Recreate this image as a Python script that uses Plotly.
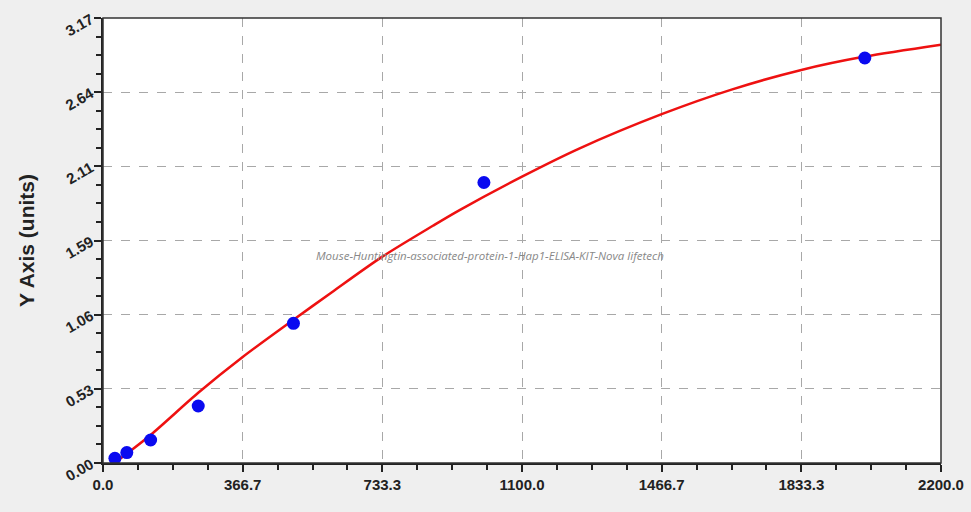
import numpy as np
import plotly.graph_objects as go

# puntos del estandar (concentracion vs densidad optica)
std_x = [31.25, 62.5, 125, 250, 500, 1000, 2000]
std_y = [0.033, 0.074, 0.164, 0.406, 0.995, 1.998, 2.885]

# curva ajustada
fit_x = [30, 125, 250, 366.7, 500, 600, 733.3, 866, 935, 1100, 1250, 1466.7, 1650, 1833.3, 2000, 2200]
fit_y = [0.00, 0.20, 0.50, 0.755, 1.02, 1.215, 1.47, 1.69, 1.80, 2.04, 2.24, 2.485, 2.66, 2.80, 2.895, 2.98]

x_ticks = [0.0, 366.7, 733.3, 1100.0, 1466.7, 1833.3, 2200.0]
x_labels = ["0.0", "366.7", "733.3", "1100.0", "1466.7", "1833.3", "2200.0"]
y_ticks = [0.0, 0.5283, 1.0567, 1.585, 2.1133, 2.6417, 3.17]
y_labels = ["0.00", "0.53", "1.06", "1.59", "2.11", "2.64", "3.17"]

watermark = "Mouse-Huntingtin-associated-protein-1-Hap1-ELISA-KIT-Nova lifetech"

fig = go.Figure()
fig.add_trace(go.Scatter(x=fit_x, y=fit_y, mode='lines', line=dict(color='#ee1111', width=2.5, shape='spline', smoothing=0.8),
                         showlegend=False, hoverinfo='skip'))
fig.add_trace(go.Scatter(x=std_x, y=std_y, mode='markers', marker=dict(color='#0a0af0', size=13),
                         showlegend=False))

tick_font = dict(family='Liberation Sans, Arial', size=15, color='#222', weight='bold')

fig.update_xaxes(range=[0, 2200], tickmode='array', tickvals=x_ticks, ticktext=x_labels, automargin=False,
                 showline=True, linecolor='#222', linewidth=2, ticks='outside', ticklen=7, tickwidth=2,
                 tickcolor='#222', tickfont=tick_font,
                 showgrid=True, gridcolor='#a8a8a8', griddash='dash', gridwidth=1, zeroline=False,
                 minor=dict(tickvals=list(np.arange(0, 2201, 2200 / 24)), ticks='outside', ticklen=5,
                            tickwidth=1.5, tickcolor='#222', showgrid=False))
fig.update_yaxes(range=[0, 3.17], tickmode='array', tickvals=y_ticks, ticktext=y_labels, automargin=False,
                 showline=True, linecolor='#222', linewidth=2, ticks='outside', ticklen=7, tickwidth=2,
                 tickcolor='#222', tickfont=dict(family='Liberation Sans, Arial', size=15, color='#222', weight='bold'),
                 tickangle=-30,
                 showgrid=True, gridcolor='#a8a8a8', griddash='dash', gridwidth=1, zeroline=False,
                 title=dict(text='<b>Y Axis (units)</b>', font=dict(family='Liberation Sans, Arial', size=21, color='#222'),
                            standoff=22),
                 minor=dict(tickvals=list(np.arange(0, 3.171, 3.17 / 24)), ticks='outside', ticklen=5,
                            tickwidth=1.5, tickcolor='#222', showgrid=False))

# borde superior y derecho
fig.add_shape(type='rect', xref='paper', yref='paper', x0=0, y0=0, x1=1, y1=1,
              line=dict(color='#333', width=1.5), layer='above')

fig.add_annotation(text='<i>' + watermark + '</i>', xref='paper', yref='paper', x=0.462, y=0.467,
                   showarrow=False, font=dict(family='Open Sans, Liberation Sans', size=11.5, color='#888'))

fig.update_layout(width=971, height=512, margin=dict(l=103, r=30, t=18, b=49),
                  paper_bgcolor='#efefef', plot_bgcolor='white',
                  font=dict(family='Liberation Sans, Arial'))

# sin margen del body para que el grafico quede en 0,0
fig.write_html("out.html", config={'displayModeBar': False},
               post_script="document.body.style.margin='0';document.body.style.background='#efefef';")
